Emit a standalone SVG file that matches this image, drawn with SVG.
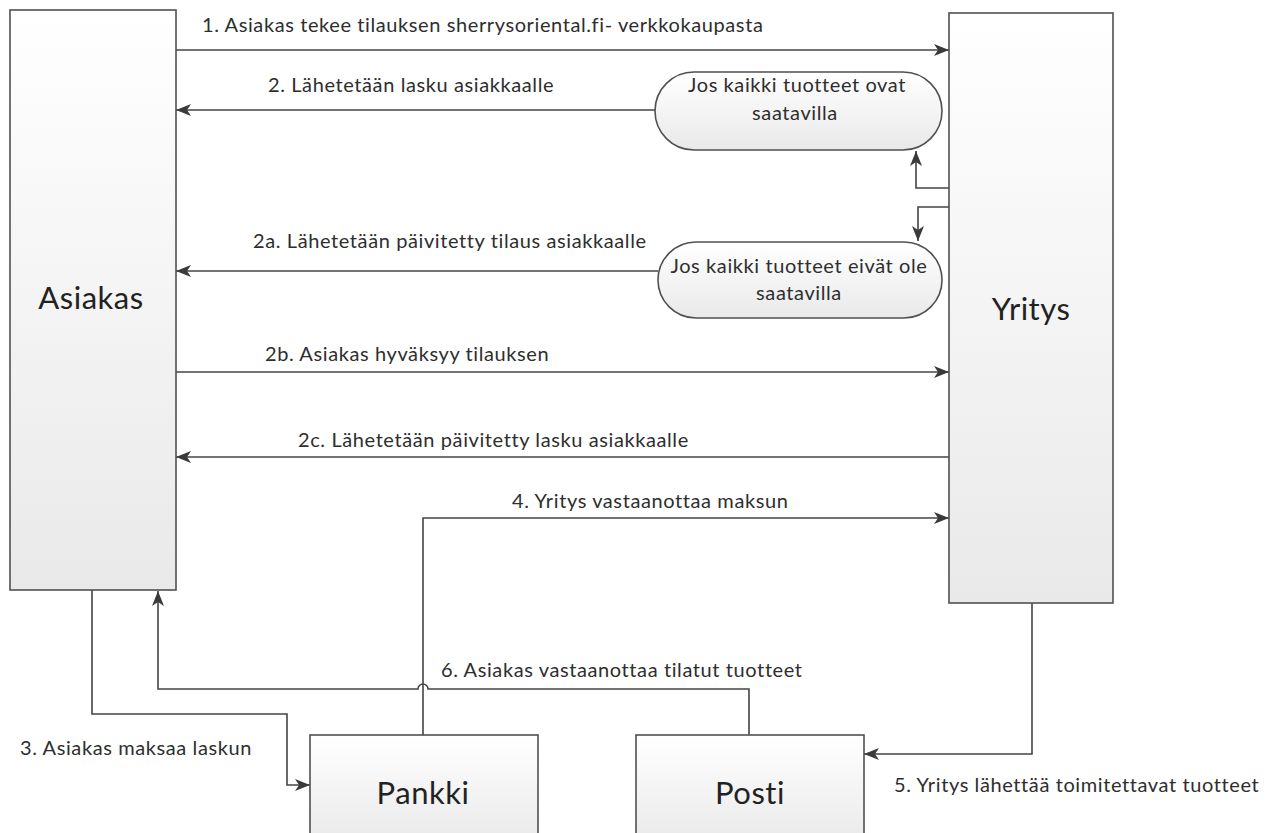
<svg xmlns="http://www.w3.org/2000/svg" width="1273" height="833" viewBox="0 0 1273 833">
<defs>
<linearGradient id="g" x1="0" y1="0" x2="0" y2="1">
<stop offset="0" stop-color="#ffffff"/>
<stop offset="1" stop-color="#e9e9e9"/>
</linearGradient>
<marker id="ah" markerUnits="userSpaceOnUse" markerWidth="16" markerHeight="12" refX="15" refY="6" orient="auto">
<path d="M0,0 L15,6 L0,12 L4,6 z" fill="#3a3a3a"/>
</marker>
</defs>
<style>
.box{fill:url(#g);stroke:#505050;stroke-width:1.6}
.pill{fill:url(#g);stroke:#505050;stroke-width:1.6}
.c{fill:none;stroke:#444;stroke-width:1.6}
.a{marker-end:url(#ah)}
.lbl{font-family:Lato,"Open Sans",sans-serif;font-size:20px;letter-spacing:0.6px;fill:#2e2e2e}
.big{font-family:Lato,"Open Sans",sans-serif;font-size:31px;letter-spacing:0.5px;fill:#222}
</style>
<rect width="1273" height="833" fill="#ffffff"/>

<g id="connectors">
<path class="c a" d="M176,50 L949,50"/>
<path class="c a" d="M655,110 L176,110"/>
<path class="c a" d="M949,188 L916,188 L916,151"/>
<path class="c a" d="M949,207 L918,207 L918,241"/>
<path class="c a" d="M658,271 L176,271"/>
<path class="c a" d="M176,372 L949,372"/>
<path class="c a" d="M949,457 L176,457"/>
<path class="c a" d="M423,735 L423,518 L949,518"/>
<path class="c a" d="M749,735 L749,689 L428,689 A5,5 0 0 0 418,689 L158,689 L158,591"/>
<path class="c a" d="M92,590 L92,714 L287,714 L287,785 L310,785"/>
<path class="c a" d="M1032,603 L1032,754 L864,754"/>
</g>

<g id="labels">
<text class="lbl" x="202" y="32">1. Asiakas tekee tilauksen sherrysoriental.fi- verkkokaupasta</text>
<text class="lbl" x="268" y="92">2. Lähetetään lasku asiakkaalle</text>
<text class="lbl" x="253" y="248">2a. Lähetetään päivitetty tilaus asiakkaalle</text>
<text class="lbl" x="265" y="361">2b. Asiakas hyväksyy tilauksen</text>
<text class="lbl" x="298" y="447">2c. Lähetetään päivitetty lasku asiakkaalle</text>
<text class="lbl" x="512" y="508">4. Yritys vastaanottaa maksun</text>
<text class="lbl" x="441" y="677">6. Asiakas vastaanottaa tilatut tuotteet</text>
<text class="lbl" x="20" y="755">3. Asiakas maksaa laskun</text>
<text class="lbl" x="894" y="792">5. Yritys lähettää toimitettavat tuotteet</text>
</g>

<g id="asiakas">
<rect class="box" x="10" y="10" width="166" height="580"/>
<text class="big" x="91" y="309" text-anchor="middle">Asiakas</text>
</g>
<g id="yritys">
<rect class="box" x="949" y="13" width="164" height="590"/>
<text class="big" x="1031" y="320" text-anchor="middle">Yritys</text>
</g>
<g id="pill1">
<rect class="pill" x="655" y="72" width="287" height="78" rx="39" ry="39"/>
<text class="lbl" x="797" y="92" text-anchor="middle">Jos kaikki tuotteet ovat</text>
<text class="lbl" x="795" y="120" text-anchor="middle">saatavilla</text>
</g>
<g id="pill2">
<rect class="pill" x="658" y="242" width="284" height="76" rx="38" ry="38"/>
<text class="lbl" x="799" y="273" text-anchor="middle">Jos kaikki tuotteet eivät ole</text>
<text class="lbl" x="799" y="300" text-anchor="middle">saatavilla</text>
</g>
<g id="pankki">
<rect class="box" x="310" y="735" width="228" height="110"/>
<text class="big" x="423" y="804" text-anchor="middle">Pankki</text>
</g>
<g id="posti">
<rect class="box" x="636" y="735" width="228" height="110"/>
<text class="big" x="750" y="804" text-anchor="middle">Posti</text>
</g>
</svg>
